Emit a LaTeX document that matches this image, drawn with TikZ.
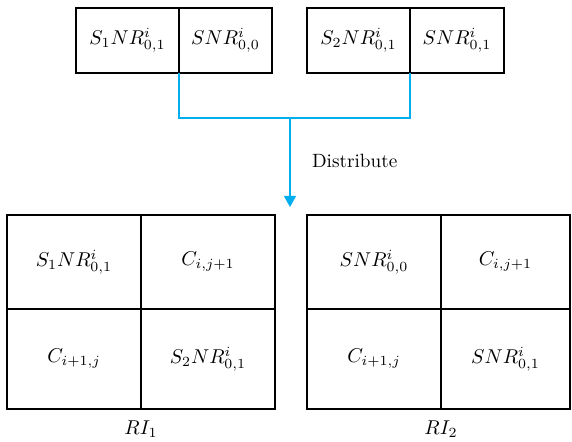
\documentclass[tikz,border=0pt]{standalone}
\usetikzlibrary{arrows.meta}
\definecolor{cblue}{RGB}{0,174,239}
\begin{document}
\begin{tikzpicture}[x=0.5pt,y=-0.5pt,
  cell/.style={draw, line width=0.6pt, inner sep=0pt, outer sep=0pt, font=\fontsize{10}{12}\selectfont},
  wa/.style={minimum width=51.5pt},
  wb/.style={minimum width=46.5pt},
  wc/.style={minimum width=47pt},
  topr/.style={minimum height=32.5pt},
  gw/.style={minimum width=67pt},
  gwr/.style={minimum width=64.5pt},
  gh1/.style={minimum height=47pt},
  gh2/.style={minimum height=50pt},
  conn/.style={draw=cblue, line width=0.6pt},
  lbl/.style={font=\fontsize{10}{12}\selectfont}]
\useasboundingbox (0,0) rectangle (572,442);
% top boxes
\node[cell,wa,topr] (a1) at (127.5,40.5) {$S_1NR^i_{0,1}$};
\node[cell,wb,topr] (a2) at (225.5,40.5) {$SNR^i_{0,0}$};
\node[cell,wa,topr] (b1) at (358.5,40.5) {$S_2NR^i_{0,1}$};
\node[cell,wc,topr] (b2) at (457,40.5) {$SNR^i_{0,1}$};
% bottom left grid
\node[cell,gw,gh1] (l11) at (74,262) {$S_1NR^i_{0,1}$};
\node[cell,gw,gh1] (l12) at (208,262) {$C_{i,j+1}$};
\node[cell,gw,gh2] (l21) at (74,359) {$C_{i+1,j}$};
\node[cell,gw,gh2] (l22) at (208,359) {$S_2NR^i_{0,1}$};
% bottom right grid
\node[cell,gw,gh1] (r11) at (374,262) {$SNR^i_{0,0}$};
\node[cell,gwr,gh1] (r12) at (505.5,262) {$C_{i,j+1}$};
\node[cell,gw,gh2] (r21) at (374,359) {$C_{i+1,j}$};
\node[cell,gwr,gh2] (r22) at (505.5,359) {$SNR^i_{0,1}$};
\node[lbl] (ri1) at (141,429) {$RI_1$};
\node[lbl] (ri2) at (441,429) {$RI_2$};
% connector
\coordinate (j) at (290,118);
\coordinate (tip) at (290,207);
\draw[conn] (a2.south west) -- (a2.south west |- j) -- (b1.south east |- j) -- (b1.south east);
\draw[conn, -{Triangle[width=6pt,length=5.5pt]}] (j) -- (tip);
\node[font=\fontsize{9.6}{11}\selectfont, anchor=west] (dist) at (305,161) {Distribute};
\end{tikzpicture}
\end{document}
